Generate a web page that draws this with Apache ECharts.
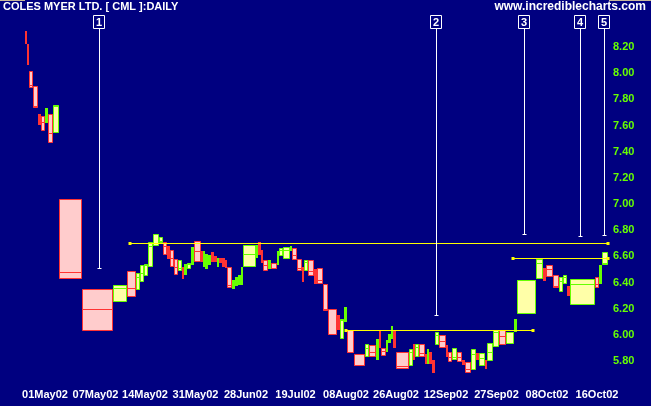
<!DOCTYPE html>
<html><head><meta charset="utf-8">
<script src="https://cdn.jsdelivr.net/npm/echarts@6/dist/echarts.min.js"></script>
<style>html,body{margin:0;padding:0;background:#000080}#c{width:651px;height:406px}</style>
</head><body><div id="c"></div>
<script>
// ---- DATA (equivolume: box width = volume, box spans low..high, inner line = close) ----
const volumes = [2,2,4,5,3,4,3,5,6,23,
  31,14,9,4,4,4,5,6,4,4,
  3,4,4,4,2,3,4,3,7,2,
  2,3,3,3,3,2,3,3,2,5,
  3,3,3,2,13,2,3,2,5,3,
  6,2,4,7,2,5,5,2,4,6,
  3,6,5,9,3,4,3,7,11,4,
  7,3,2,5,2,3,2,3,13,4,
  2,4,6,2,2,3,3,4,7,2,
  4,5,5,3,6,5,3,6,2,6,
  6,7,8,3,19,7,3,7,6,4,
  4,3,25,4,3,6];
const highs = [8.32,8.22,8.02,7.90,7.69,7.67,7.73,7.69,7.76,7.04,
  6.35,6.38,6.49,6.47,6.53,6.54,6.71,6.77,6.745,6.71,
  6.68,6.65,6.58,6.57,6.52,6.54,6.55,6.67,6.72,6.64,
  6.64,6.62,6.61,6.63,6.60,6.59,6.59,6.59,6.57,6.52,
  6.42,6.44,6.46,6.52,6.69,6.69,6.71,6.65,6.57,6.57,
  6.55,6.64,6.66,6.67,6.68,6.66,6.58,6.52,6.57,6.57,
  6.50,6.51,6.39,6.20,6.15,6.12,6.21,6.04,5.85,5.93,
  5.92,5.97,6.03,5.90,5.96,6.01,6.07,6.04,5.87,5.89,
  5.93,5.93,5.93,5.85,5.89,5.87,5.81,6.02,6.00,5.92,
  5.87,5.90,5.87,5.81,5.79,5.89,5.86,5.86,5.81,5.94,
  6.04,6.04,6.02,6.12,6.42,6.58,6.51,6.53,6.46,6.44,
  6.46,6.37,6.43,6.44,6.53,6.63];
const lows = [8.22,8.06,7.89,7.73,7.60,7.56,7.62,7.47,7.54,6.43,
  6.03,6.25,6.29,6.345,6.40,6.45,6.52,6.68,6.70,6.61,
  6.58,6.52,6.455,6.49,6.43,6.46,6.50,6.53,6.56,6.56,
  6.52,6.50,6.53,6.56,6.56,6.52,6.55,6.52,6.51,6.36,
  6.35,6.37,6.38,6.38,6.52,6.59,6.61,6.55,6.49,6.50,
  6.50,6.53,6.60,6.58,6.64,6.57,6.49,6.40,6.49,6.45,
  6.39,6.39,6.18,6.00,6.04,5.97,6.10,5.86,5.76,5.83,
  5.83,5.81,5.90,5.84,5.87,5.94,5.97,5.90,5.74,5.76,
  5.81,5.83,5.83,5.78,5.78,5.78,5.71,5.92,5.90,5.83,
  5.79,5.81,5.79,5.77,5.71,5.73,5.81,5.76,5.74,5.80,
  5.91,5.92,5.93,6.02,6.16,6.43,6.41,6.44,6.36,6.33,
  6.39,6.30,6.23,6.36,6.39,6.53];
const closes = [8.22,8.06,7.91,7.75,7.60,7.63,7.66,7.54,7.75,6.48,
  6.20,6.36,6.355,6.44,6.47,6.53,6.68,6.70,6.72,6.68,
  6.60,6.59,6.52,6.51,6.43,6.53,6.54,6.64,6.64,6.56,
  6.64,6.62,6.61,6.57,6.56,6.58,6.56,6.53,6.52,6.38,
  6.42,6.43,6.46,6.52,6.62,6.68,6.62,6.55,6.53,6.56,
  6.50,6.63,6.65,6.65,6.68,6.61,6.51,6.40,6.56,6.49,
  6.46,6.42,6.20,6.01,6.06,6.11,6.13,5.87,5.77,5.90,
  5.87,5.96,5.90,5.88,5.95,6.01,6.06,5.90,5.76,5.87,
  5.82,5.91,5.86,5.78,5.88,5.83,5.71,6.00,5.95,5.84,
  5.83,5.83,5.83,5.77,5.74,5.85,5.82,5.82,5.74,5.87,
  6.02,5.99,6.02,6.12,6.42,6.55,6.42,6.50,6.37,6.41,
  6.44,6.33,6.39,6.39,6.53,6.55];
const upDay = [0,0,0,0,0,0,1,0,1,0,
  0,1,0,1,1,1,1,1,1,0,
  0,0,0,1,0,1,1,1,0,0,
  1,1,1,0,0,1,0,0,0,0,
  1,1,1,1,1,1,0,0,0,1,
  0,1,1,1,1,0,0,0,1,0,
  0,0,0,0,0,1,1,0,0,1,
  0,1,0,0,1,1,1,0,0,1,
  0,1,0,0,1,0,0,1,0,0,
  0,1,0,0,0,1,0,1,0,1,
  1,0,1,1,1,1,0,0,0,1,
  1,0,1,0,1,1];
// horizontal trendlines: [from (cum. volume), to (cum. volume), price]
const trendFrom = [105, 321, 488];
const trendTo = [583, 508, 583];
const trendPrice = [6.70, 6.04, 6.585];
// numbered annotations: position along volume axis, price where the pointer ends
const noteLabels = ['1','2','3','4','5'];
const notePos = [74, 410.7, 499.3, 555.3, 579];
const notePrice = [6.51, 6.15, 6.77, 6.755, 6.76];
// axes
const xTickLabels = ['01May02','07May02','14May02','31May02','28Jun02','19Jul02','08Aug02','26Aug02','12Sep02','27Sep02','08Oct02','16Oct02'];
const xTickPos = [20, 70.5, 120, 170.5, 221, 270.5, 321, 371, 421, 471.5, 522, 572];
const yTicks = [5.8, 6.0, 6.2, 6.4, 6.6, 6.8, 7.0, 7.2, 7.4, 7.6, 7.8, 8.0, 8.2];

// ---- build ----
const RED = '#ff3333', PINK = '#ffcccc', GREEN = '#66ff00', YEL = '#ffffa8';
const FONT = '"Liberation Sans", Arial, sans-serif';
let acc = 0;
const candleData = volumes.map((v, i) => { const s = acc; acc += v; return [s, s + v, highs[i], lows[i], closes[i], upDay[i]]; });
const trendData = trendFrom.map((f, i) => [f, trendTo[i], trendPrice[i]]);
const noteData = notePos.map((p, i) => [p, notePrice[i], i]);

const chart = echarts.init(document.getElementById('c'), null, {renderer: 'canvas'});
chart.setOption({
  backgroundColor: '#000080',
  animation: false,
  title: {text: 'COLES MYER LTD. [ CML ]:DAILY', left: 3, top: 1, padding: 0,
    textStyle: {color: '#ffffff', fontSize: 11, fontWeight: 'bold', fontFamily: FONT}},
  graphic: [
    {type: 'text', right: 5, top: 1, style: {text: 'www.incrediblecharts.com', fill: '#ffffff', font: 'bold 12px ' + FONT}},
    {type: 'rect', left: 0, top: 0, shape: {width: 25, height: 1}, style: {fill: '#c8b89a'}},
    {type: 'rect', left: 609, top: 0, shape: {width: 42, height: 1}, style: {fill: '#c8b89a'}}
  ],
  grid: {left: 0, right: 41, top: 0, bottom: 21},
  xAxis: {type: 'value', min: -25, max: 585,
    axisLine: {show: false}, axisTick: {show: false}, splitLine: {show: false},
    axisLabel: {customValues: xTickPos, margin: 4, color: '#ffffff', fontSize: 11, fontWeight: 'bold', fontFamily: FONT,
      formatter: v => { let b = 0; xTickPos.forEach((p, i) => { if (Math.abs(p - v) < Math.abs(xTickPos[b] - v)) b = i; }); return xTickLabels[b]; }}},
  yAxis: {type: 'value', position: 'right', min: 5.6165, max: 8.5592,
    axisLine: {show: false}, axisTick: {show: false}, splitLine: {show: false},
    axisLabel: {customValues: yTicks, margin: 3, color: GREEN, fontSize: 11, fontWeight: 'bold', fontFamily: FONT,
      formatter: v => v.toFixed(2)}},
  series: [
    {type: 'custom', clip: false, data: candleData,
      renderItem: (params, api) => {
        const x0 = api.value(0), x1 = api.value(1), hi = api.value(2), lo = api.value(3), cl = api.value(4), up = api.value(5);
        const p0 = api.coord([x0, hi]), p1 = api.coord([x1, lo]), pc = api.coord([x0, cl]);
        const L = Math.round(p0[0]), R = Math.round(p1[0]), T = Math.round(p0[1]), B = Math.round(p1[1]);
        const w = R - L, h = Math.max(B - T, 1);
        const edge = up ? GREEN : RED, fill = up ? YEL : PINK;
        if (w <= 3) return {type: 'rect', shape: {x: L, y: T, width: Math.max(w, 1), height: h}, style: {fill: edge}};
        const cy = Math.min(Math.max(Math.round(pc[1]), T), B - 1) + 0.5;
        return {type: 'group', children: [
          {type: 'rect', shape: {x: L + 0.5, y: T + 0.5, width: w - 1, height: Math.max(h - 1, 1)}, style: {fill: fill, stroke: edge, lineWidth: 1}},
          {type: 'line', shape: {x1: L + 0.5, y1: cy, x2: R - 0.5, y2: cy}, style: {stroke: edge, lineWidth: 1}}
        ]};
      }},
    {type: 'custom', clip: false, data: trendData, z: 5,
      renderItem: (params, api) => {
        const a = api.coord([api.value(0), api.value(2)]), b = api.coord([api.value(1), api.value(2)]);
        const y = Math.round(a[1]) + 0.5;
        return {type: 'group', children: [
          {type: 'line', shape: {x1: a[0], y1: y, x2: b[0], y2: y}, style: {stroke: '#ffff00', lineWidth: 1}},
          {type: 'rect', shape: {x: a[0] - 1.5, y: y - 1.5, width: 3, height: 3}, style: {fill: '#ffff00'}},
          {type: 'rect', shape: {x: b[0] - 1.5, y: y - 1.5, width: 3, height: 3}, style: {fill: '#ffff00'}}
        ]};
      }},
    {type: 'custom', clip: false, data: noteData, z: 6,
      renderItem: (params, api) => {
        const p = api.coord([api.value(0), api.value(1)]);
        const x = Math.round(p[0]) + 0.5, y = Math.round(p[1]) + 0.5;
        return {type: 'group', children: [
          {type: 'rect', shape: {x: x - 6, y: 15.5, width: 11, height: 13}, style: {fill: 'none', stroke: '#ffffff', lineWidth: 1}},
          {type: 'text', style: {text: noteLabels[api.value(2)], x: x - 0.5, y: 22.5, align: 'center', verticalAlign: 'middle', fill: '#ffffff', font: 'bold 11px ' + FONT}},
          {type: 'line', shape: {x1: x, y1: 28.5, x2: x, y2: y}, style: {stroke: '#ffffff', lineWidth: 1}},
          {type: 'line', shape: {x1: x - 2, y1: y, x2: x + 2, y2: y}, style: {stroke: '#ffffff', lineWidth: 1}}
        ]};
      }}
  ]
});
</script></body></html>
